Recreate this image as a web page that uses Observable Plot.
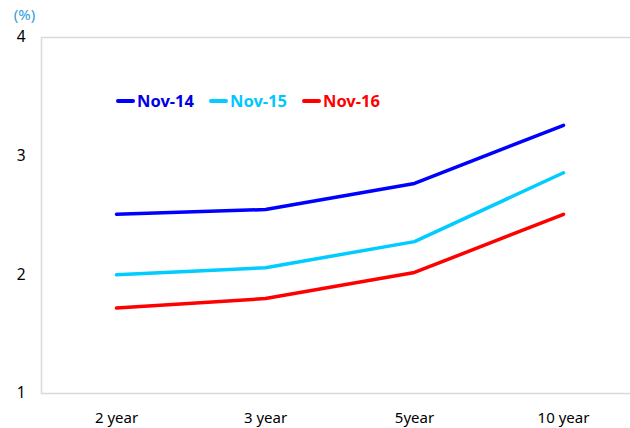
<!DOCTYPE html>
<html>
<head>
<meta charset="utf-8">
<script src="https://cdn.jsdelivr.net/npm/d3@7"></script>
<script src="https://cdn.jsdelivr.net/npm/@observablehq/plot@0.6"></script>
<style>
  html, body { margin: 0; padding: 0; background: #fff; }
  #wrap { position: relative; width: 630px; height: 428px; overflow: hidden; font-family: "Noto Sans", sans-serif; }
  #legend { position: absolute; left: 116px; top: 89px; display: flex; gap: 15px; font-weight: bold; font-size: 16.5px; }
  #legend .item { display: flex; align-items: center; }
  #legend .sw { display: inline-block; width: 19px; height: 4px; margin-right: 2px; border-radius: 2px; }
</style>
</head>
<body>
<div id="wrap"><div id="legend"></div></div>
<script>
const maturities = ["2 year", "3 year", "5year", "10 year"];
const seriesNames = ["Nov-14", "Nov-15", "Nov-16"];
const nov14 = [2.51, 2.55, 2.77, 3.26];
const nov15 = [2.00, 2.06, 2.28, 2.86];
const nov16 = [1.72, 1.80, 2.02, 2.51];
const yTicks = [1, 2, 3, 4];
const colors = ["#0000ff", "#00ccff", "#ff0000"];
const textColors = ["#0000e6", "#00c8ff", "#ff0000"];

const seriesValues = [nov14, nov15, nov16];
const data = [];
seriesNames.forEach((s, i) => maturities.forEach((m, j) => data.push({series: s, maturity: m, value: seriesValues[i][j]})));

const chart = Plot.plot({
  width: 630,
  height: 428,
  marginTop: 37,
  marginBottom: 35,
  marginLeft: 41,
  marginRight: -7,
  style: {fontFamily: "Noto Sans, sans-serif", fontSize: "15px", color: "#000", background: "#fff"},
  x: {type: "point", domain: maturities, padding: 0.5, label: null},
  y: {domain: [1, 4], ticks: yTicks, label: null},
  color: {domain: seriesNames, range: colors},
  marks: [
    Plot.frame({stroke: "#d9d9d9", strokeWidth: 1.5}),
    Plot.axisY({ticks: yTicks, tickSize: 0, tickPadding: 16, tickFormat: d3.format("d"), fontSize: 15.5, label: null}),
    Plot.axisX({tickSize: 0, tickPadding: 19, fontSize: 15, label: null}),
    Plot.text(["(%)"], {frameAnchor: "top-left", dx: -17, dy: -28, fill: "#2f9ed8", fontSize: 15, textAnchor: "middle"}),
    Plot.line(data, {x: "maturity", y: "value", z: "series", stroke: "series", strokeWidth: 3.5, curve: "linear"})
  ]
});
document.getElementById("wrap").appendChild(chart);

const legend = document.getElementById("legend");
seriesNames.forEach((s, i) => {
  const it = document.createElement("div");
  it.className = "item";
  it.innerHTML = `<span class="sw" style="background:${colors[i]}"></span><span style="color:${textColors[i]}">${s}</span>`;
  legend.appendChild(it);
});
</script>
</body>
</html>
